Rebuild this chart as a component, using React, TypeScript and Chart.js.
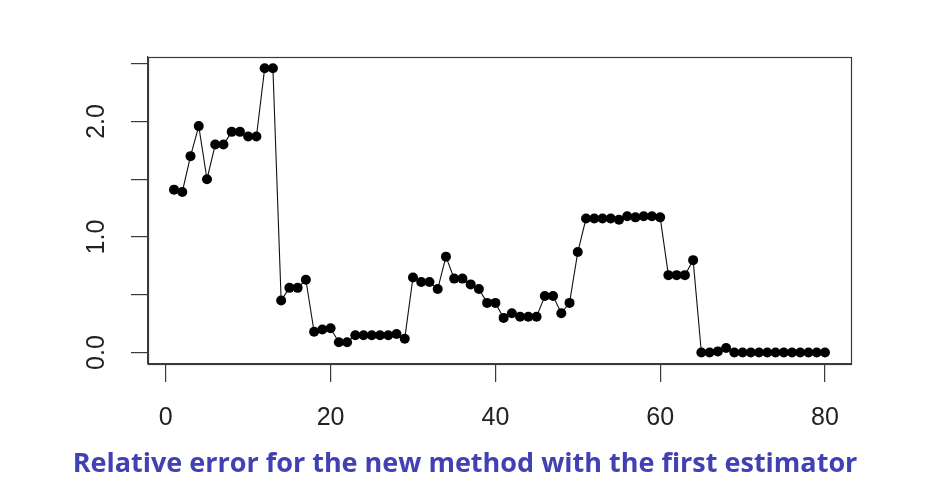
import React, { useEffect, useRef } from "react";
import { Chart, registerables } from "chart.js";

Chart.register(...registerables);

const indices = [
  1, 2, 3, 4, 5, 6, 7, 8, 9, 10, 11, 12, 13, 14, 15, 16, 17, 18, 19, 20,
  21, 22, 23, 24, 25, 26, 27, 28, 29, 30, 31, 32, 33, 34, 35, 36, 37, 38, 39, 40,
  41, 42, 43, 44, 45, 46, 47, 48, 49, 50, 51, 52, 53, 54, 55, 56, 57, 58, 59, 60,
  61, 62, 63, 64, 65, 66, 67, 68, 69, 70, 71, 72, 73, 74, 75, 76, 77, 78, 79, 80,
];

const relativeError = [
  1.41, 1.39, 1.70, 1.96, 1.50, 1.80, 1.80, 1.91, 1.91, 1.87,
  1.87, 2.46, 2.46, 0.45, 0.56, 0.56, 0.63, 0.18, 0.20, 0.21,
  0.09, 0.09, 0.15, 0.15, 0.15, 0.15, 0.15, 0.16, 0.12, 0.65,
  0.61, 0.61, 0.55, 0.83, 0.64, 0.64, 0.59, 0.55, 0.43, 0.43,
  0.30, 0.34, 0.31, 0.31, 0.31, 0.49, 0.49, 0.34, 0.43, 0.87,
  1.16, 1.16, 1.16, 1.16, 1.15, 1.18, 1.17, 1.18, 1.18, 1.17,
  0.67, 0.67, 0.67, 0.80, 0.00, 0.00, 0.01, 0.04, 0.00, 0.00,
  0.00, 0.00, 0.00, 0.00, 0.00, 0.00, 0.00, 0.00, 0.00, 0.00,
];

const xTickValues = [0, 20, 40, 60, 80];
const yTickValues = [0, 0.5, 1.0, 1.5, 2.0, 2.5];
const yLabelValues = [0, 1.0, 2.0];
const yLabelTexts = ["0.0", "1.0", "2.0"];
const titleText = "Relative error for the new method with the first estimator";

const AXIS_COLOR = "#3a3a3a";

export default function App() {
  const canvasRef = useRef<HTMLCanvasElement | null>(null);

  useEffect(() => {
    document.body.style.margin = "0";
    const canvas = canvasRef.current;
    if (!canvas) return;

    const boxAndLabels = {
      id: "boxAndLabels",
      afterDraw(chart: any) {
        const { ctx, chartArea, scales } = chart;
        ctx.save();
        ctx.strokeStyle = AXIS_COLOR;
        ctx.lineWidth = 1.2;
        ctx.strokeRect(
          Math.round(chartArea.left) + 0.5,
          Math.round(chartArea.top) + 0.5,
          Math.round(chartArea.right - chartArea.left),
          Math.round(chartArea.bottom - chartArea.top)
        );
        ctx.fillStyle = "#222";
        ctx.font = '25px "Liberation Sans", Arial, sans-serif';
        ctx.textAlign = "center";
        ctx.textBaseline = "middle";
        yLabelValues.forEach((v, i) => {
          const py = scales.y.getPixelForValue(v);
          ctx.save();
          ctx.translate(97, py);
          ctx.rotate(-Math.PI / 2);
          ctx.fillText(yLabelTexts[i], 0, 0);
          ctx.restore();
        });
        ctx.fillStyle = "#4141b3";
        ctx.font = 'bold 27px "Open Sans", sans-serif';
        ctx.textAlign = "center";
        ctx.textBaseline = "alphabetic";
        ctx.fillText(titleText, 465, 472);
        ctx.restore();
      },
    };

    const chart = new Chart(canvas, {
      type: "line",
      data: {
        datasets: [
          {
            data: indices.map((x, i) => ({ x, y: relativeError[i] })),
            borderColor: "#111",
            borderWidth: 1.1,
            backgroundColor: "#000",
            pointBackgroundColor: "#000",
            pointBorderColor: "#000",
            pointRadius: 5,
            pointBorderWidth: 0,
            tension: 0,
            fill: false,
          },
        ],
      },
      options: {
        animation: false,
        responsive: false,
        layout: { padding: { left: 0, right: 74, top: 57, bottom: 0 } },
        plugins: {
          legend: { display: false },
          tooltip: { enabled: false },
          title: { display: false },
        },
        scales: {
          x: {
            type: "linear",
            min: -2.16,
            max: 83.16,
            afterBuildTicks: (scale: any) => {
              scale.ticks = xTickValues.map((v) => ({ value: v }));
            },
            afterFit: (scale: any) => {
              scale.height = 116;
            },
            ticks: {
              color: "#222",
              font: { family: '"Liberation Sans", Arial, sans-serif', size: 25 },
              padding: 21,
              maxRotation: 0,
              autoSkip: false,
              callback: (v: any) => String(v),
            },
            grid: {
              drawOnChartArea: false,
              drawTicks: true,
              tickLength: 18,
              color: AXIS_COLOR,
              lineWidth: 1.2,
            },
            border: { display: true, color: AXIS_COLOR, width: 1.2 },
          },
          y: {
            type: "linear",
            min: -0.099,
            max: 2.558,
            afterBuildTicks: (scale: any) => {
              scale.ticks = yTickValues.map((v) => ({ value: v }));
            },
            afterFit: (scale: any) => {
              scale.width = 148;
            },
            ticks: {
              display: false,
              autoSkip: false,
            },
            grid: {
              drawOnChartArea: false,
              drawTicks: true,
              tickLength: 17,
              color: AXIS_COLOR,
              lineWidth: 1.2,
            },
            border: { display: true, color: AXIS_COLOR, width: 1.2 },
          },
        },
      },
      plugins: [boxAndLabels],
    });

    return () => chart.destroy();
  }, []);

  return (
    <div style={{ width: 925, height: 480, background: "#fff" }}>
      <canvas ref={canvasRef} width={925} height={480} style={{ display: "block" }} />
    </div>
  );
}
